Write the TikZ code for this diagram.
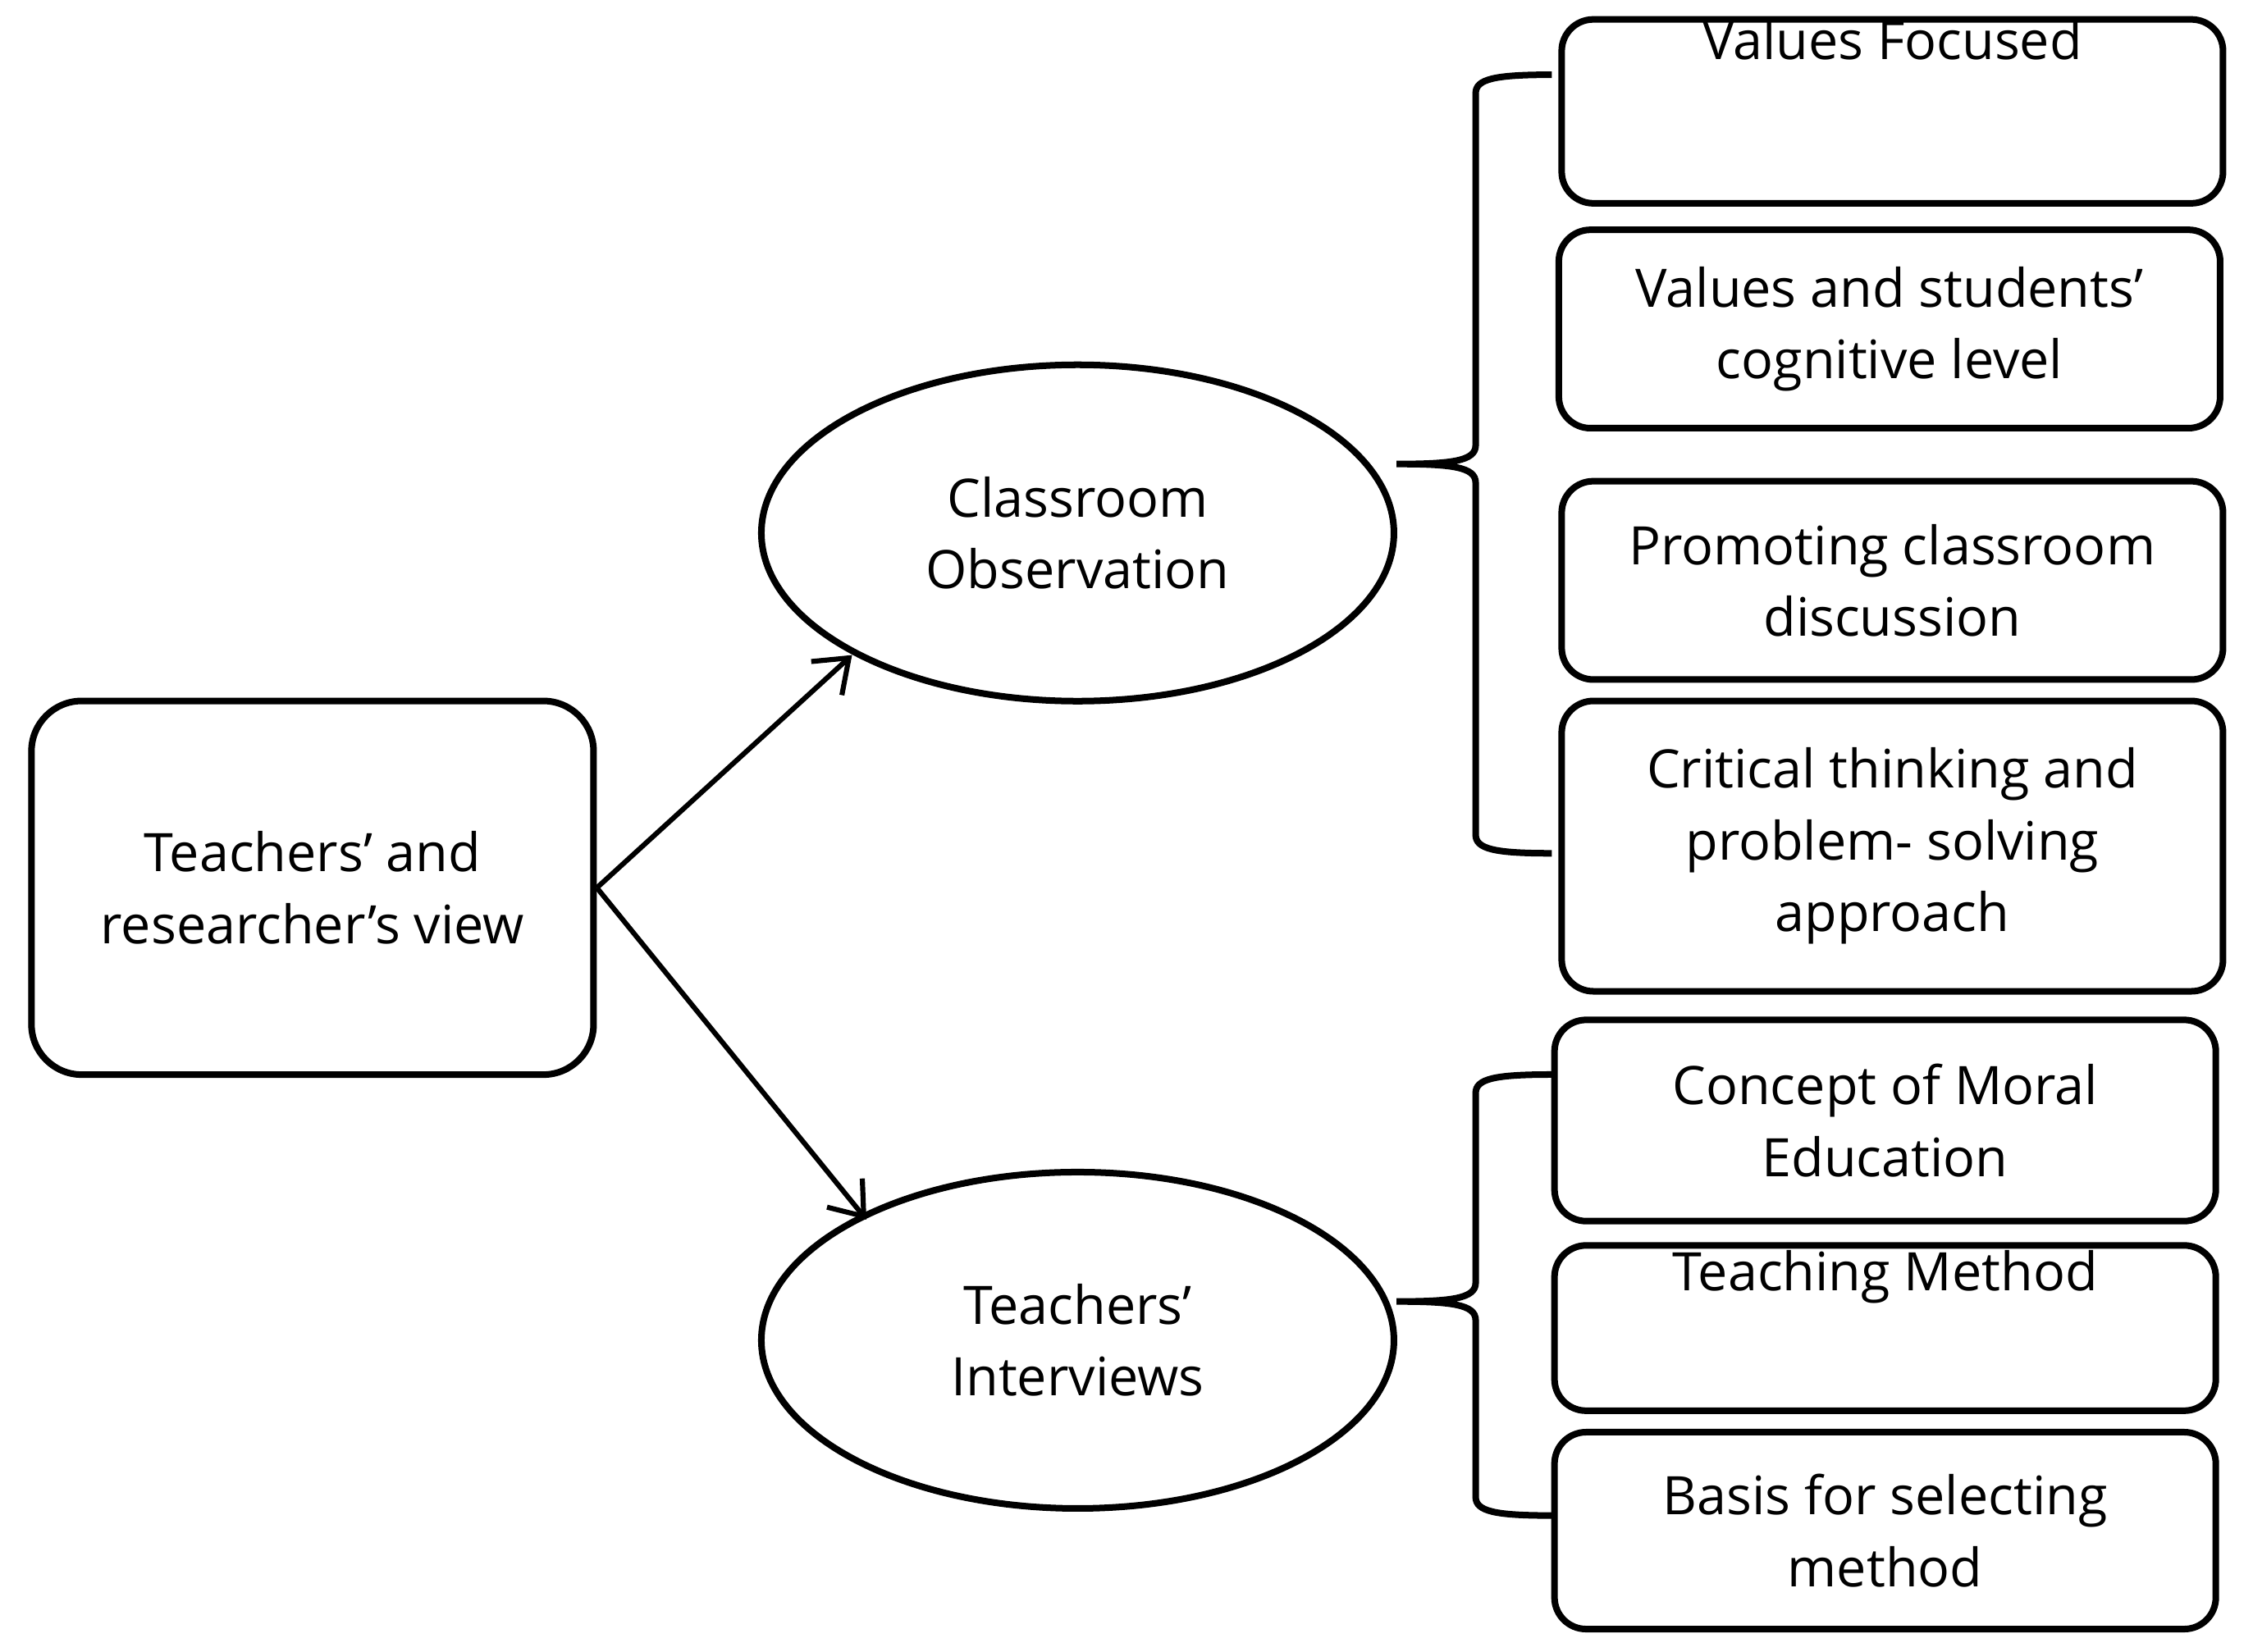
\documentclass[tikz,border=0pt]{standalone}
\usepackage{fontspec}
\setmainfont{Open Sans}
\usetikzlibrary{shapes.geometric,arrows.meta}
\begin{document}
\begin{tikzpicture}[x=0.01cm,y=-0.01cm,
  box/.style={draw,line width=1.3pt,rounded corners=0.22cm,align=center,font=\fontsize{10.5}{14.2}\selectfont,inner sep=0pt},
  ell/.style={draw,line width=1.3pt,ellipse,align=center,font=\fontsize{10.5}{14.2}\selectfont,minimum width=4.4cm,minimum height=2.34cm,inner sep=0pt},
  arr/.style={->,line width=1pt,>={Straight Barb[length=6pt,width=9pt]}},
  br/.style={line width=1.3pt}]
\useasboundingbox (0,0) rectangle (1568,1150);
\node[box,minimum width=3.91cm,minimum height=2.6cm,rounded corners=0.35cm] (L) at (217.5,618) {Teachers’ and\\researcher’s view};
\node[ell] (E1) at (750,371) {Classroom\\Observation};
\node[ell] (E2) at (750,933) {Teachers’\\Interviews};
\node[box,minimum width=4.6cm,minimum height=1.25cm] (b1) at (1317,77.5) {Values Focused\\[0.5cm]};
\node[box,minimum width=4.6cm,minimum height=1.38cm] (b2) at (1315,229) {Values and students’\\cognitive level};
\node[box,minimum width=4.6cm,minimum height=1.38cm] (b3) at (1317,404) {Promoting classroom\\discussion};
\node[box,minimum width=4.6cm,minimum height=2.02cm] (b4) at (1317,589) {Critical thinking and\\problem- solving\\approach};
\node[box,minimum width=4.6cm,minimum height=1.4cm] (b5) at (1312,780) {Concept of Moral\\Education};
\node[box,minimum width=4.6cm,minimum height=1.15cm] (b6) at (1312,924.5) {Teaching Method\\[0.3cm]};
\node[box,minimum width=4.6cm,minimum height=1.37cm] (b7) at (1312,1065.5) {Basis for selecting\\method};
\draw[arr] (L.east) -- (593,456);
\draw[arr] (L.east) -- (603,849);
\coordinate (t1) at (1080,52); \coordinate (t2) at (1080,594); \coordinate (tm) at (972,323);
\draw[br] (t1) .. controls (1040,52) and (1027,55) .. (1027,65) -- (1027,310)
  .. controls (1027,321) and (1010,323) .. (tm)
  .. controls (1010,323) and (1027,325) .. (1027,336) -- (1027,581)
  .. controls (1027,591) and (1040,594) .. (t2);
\coordinate (u1) at (1080,748); \coordinate (u2) at (1080,1055); \coordinate (um) at (972,906);
\draw[br] (u1) .. controls (1040,748) and (1027,751) .. (1027,761) -- (1027,893)
  .. controls (1027,904) and (1010,906) .. (um)
  .. controls (1010,906) and (1027,908) .. (1027,919) -- (1027,1042)
  .. controls (1027,1052) and (1040,1055) .. (u2);
\end{tikzpicture}
\end{document}
